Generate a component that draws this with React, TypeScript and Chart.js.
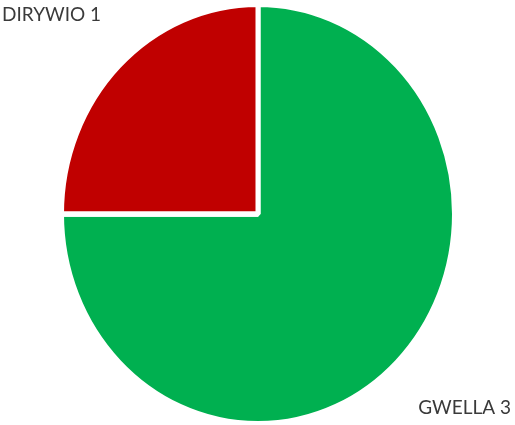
import React, { useEffect, useRef } from "react";
import { Chart, registerables } from "chart.js";

Chart.register(...registerables);

const categories = ["GWELLA", "DIRYWIO"];
const values = [3, 1];
const colors = ["#00B050", "#C00000"];

const W = 515;
const H = 425;

export default function App() {
  const ref = useRef<HTMLCanvasElement | null>(null);

  useEffect(() => {
    if (!ref.current) return;
    const cx = 257.8;
    const cy = 213.8;
    const sy = 207.3 / 194.2;

    const stretch = {
      id: "stretch",
      beforeDatasetsDraw(chart: any) {
        const ctx = chart.ctx;
        ctx.save();
        ctx.translate(cx, cy);
        ctx.scale(1, sy);
        ctx.translate(-cx, -cy);
      },
      afterDatasetsDraw(chart: any) {
        chart.ctx.restore();
      },
    };

    const labelsPlugin = {
      id: "cornerLabels",
      afterDraw(chart: any) {
        const ctx = chart.ctx;
        ctx.save();
        ctx.font = "19px Lato";
        ctx.fillStyle = "#3a3a3a";
        ctx.textBaseline = "alphabetic";
        ctx.textAlign = "left";
        ctx.fillText(`${categories[1]} ${values[1]}`, 2, 21);
        ctx.textAlign = "right";
        ctx.fillText(`${categories[0]} ${values[0]}`, 511, 414);
        ctx.restore();
      },
    };

    const chart = new Chart(ref.current, {
      type: "pie",
      data: {
        labels: categories,
        datasets: [
          {
            data: values,
            backgroundColor: colors,
            borderColor: "#ffffff",
            borderWidth: 5,
          },
        ],
      },
      options: {
        animation: false,
        responsive: false,
        maintainAspectRatio: false,
        layout: { padding: { left: 59, right: 58, top: 15, bottom: 12 } },
        plugins: {
          legend: { display: false },
          tooltip: { enabled: false },
        },
      },
      plugins: [stretch, labelsPlugin],
    });
    return () => chart.destroy();
  }, []);

  return (
    <div style={{ position: "fixed", left: 0, top: 0, width: W, height: H, background: "#fff" }}>
      <canvas ref={ref} width={W} height={H} style={{ width: W, height: H, display: "block" }} />
    </div>
  );
}
